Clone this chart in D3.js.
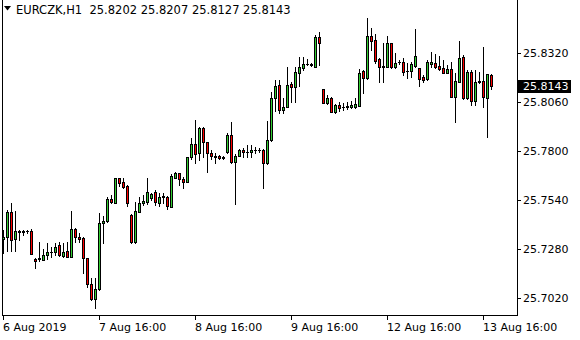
<!DOCTYPE html>
<html>
<head>
<meta charset="utf-8">
<script src="https://cdn.jsdelivr.net/npm/d3@7"></script>
<style>
  html, body { margin: 0; padding: 0; background: #fff; }
  svg { display: block; font-family: "DejaVu Sans", sans-serif; }
</style>
</head>
<body>
<div id="chart"></div>
<script>
// EURCZK H1 bars, 6 Aug 16:00 .. 13 Aug 18:00
const opens = [25.7332, 25.7343, 25.7475, 25.7332, 25.7369, 25.7372, 25.7373, 25.7375, 25.7226, 25.7229,
  25.7221, 25.7249, 25.7263, 25.7263, 25.7301, 25.7244, 25.7269, 25.7239, 25.7384, 25.7341,
  25.7336, 25.7230, 25.7092, 25.7013, 25.7066, 25.7416, 25.7428, 25.7544, 25.7525, 25.7654,
  25.7633, 25.7613, 25.7460, 25.7316, 25.7477, 25.7522, 25.7527, 25.7551, 25.7580, 25.7522,
  25.7560, 25.7553, 25.7504, 25.7657, 25.7681, 25.7650, 25.7636, 25.7765, 25.7836, 25.7790,
  25.7919, 25.7845, 25.7787, 25.7769, 25.7772, 25.7769, 25.7795, 25.7884, 25.7742, 25.7774,
  25.7804, 25.7796, 25.7792, 25.7802, 25.7804, 25.7804, 25.7734, 25.7855, 25.8078, 25.8149,
  25.8016, 25.8034, 25.8154, 25.8136, 25.8211, 25.8237, 25.8258, 25.8260, 25.8246, 25.8401,
  25.8126, 25.8052, 25.8081, 25.8004, 25.8043, 25.8034, 25.8034, 25.8030, 25.8034, 25.8039,
  25.8223, 25.8184, 25.8408, 25.8387, 25.8285, 25.8249, 25.8246, 25.8370, 25.8246, 25.8269,
  25.8269, 25.8224, 25.8224, 25.8251, 25.8237, 25.8189, 25.8180, 25.8260, 25.8264, 25.8249,
  25.8237, 25.8214, 25.8232, 25.8087, 25.8166, 25.8295, 25.8078, 25.8219, 25.8064, 25.8163,
  25.8170, 25.8078, 25.8202];
const highs = [25.7380, 25.7486, 25.7523, 25.7481, 25.7380, 25.7380, 25.7380, 25.7385, 25.7232, 25.7316,
  25.7279, 25.7311, 25.7290, 25.7311, 25.7316, 25.7311, 25.7316, 25.7481, 25.7391, 25.7364,
  25.7343, 25.7232, 25.7126, 25.7126, 25.7470, 25.7454, 25.7557, 25.7566, 25.7656, 25.7656,
  25.7654, 25.7619, 25.7465, 25.7528, 25.7557, 25.7566, 25.7654, 25.7578, 25.7592, 25.7576,
  25.7578, 25.7560, 25.7677, 25.7689, 25.7682, 25.7663, 25.7767, 25.7866, 25.7963, 25.7928,
  25.7928, 25.7848, 25.7804, 25.7787, 25.7778, 25.7772, 25.7896, 25.7951, 25.7783, 25.7809,
  25.7815, 25.7831, 25.7829, 25.7822, 25.7813, 25.7809, 25.7958, 25.8110, 25.8175, 25.8175,
  25.8078, 25.8242, 25.8166, 25.8246, 25.8299, 25.8297, 25.8285, 25.8267, 25.8414, 25.8431,
  25.8127, 25.8096, 25.8085, 25.8048, 25.8060, 25.8055, 25.8060, 25.8065, 25.8078, 25.8232,
  25.8228, 25.8502, 25.8449, 25.8419, 25.8292, 25.8370, 25.8408, 25.8371, 25.8317, 25.8281,
  25.8290, 25.8264, 25.8272, 25.8445, 25.8239, 25.8202, 25.8281, 25.8325, 25.8313, 25.8302,
  25.8281, 25.8255, 25.8272, 25.8211, 25.8382, 25.8308, 25.8228, 25.8228, 25.8228, 25.8219,
  25.8352, 25.8207, 25.8207];
const lows = [25.7258, 25.7269, 25.7269, 25.7269, 25.7327, 25.7354, 25.7364, 25.7252, 25.7179, 25.7216,
  25.7221, 25.7226, 25.7239, 25.7248, 25.7242, 25.7237, 25.7237, 25.7237, 25.7316, 25.7316,
  25.7154, 25.7078, 25.7009, 25.6968, 25.7062, 25.7311, 25.7422, 25.7522, 25.7523, 25.7613,
  25.7601, 25.7507, 25.7311, 25.7311, 25.7475, 25.7513, 25.7518, 25.7539, 25.7513, 25.7507,
  25.7522, 25.7490, 25.7502, 25.7654, 25.7619, 25.7601, 25.7634, 25.7755, 25.7734, 25.7751,
  25.7765, 25.7689, 25.7755, 25.7737, 25.7755, 25.7756, 25.7787, 25.7734, 25.7518, 25.7772,
  25.7769, 25.7765, 25.7765, 25.7790, 25.7795, 25.7601, 25.7730, 25.7852, 25.8012, 25.7998,
  25.7998, 25.8032, 25.8060, 25.8060, 25.8143, 25.8228, 25.8255, 25.8249, 25.8242, 25.8255,
  25.8052, 25.8048, 25.8004, 25.8000, 25.8011, 25.8016, 25.8020, 25.8025, 25.8025, 25.8037,
  25.8105, 25.8180, 25.8334, 25.8264, 25.8163, 25.8166, 25.8244, 25.8237, 25.8239, 25.8260,
  25.8202, 25.8184, 25.8193, 25.8246, 25.8143, 25.8166, 25.8175, 25.8246, 25.8237, 25.8228,
  25.8211, 25.8211, 25.8085, 25.7954, 25.8163, 25.8076, 25.8074, 25.8043, 25.8043, 25.8159,
  25.8034, 25.7875, 25.8127];
const closes = [25.7343, 25.7475, 25.7327, 25.7375, 25.7375, 25.7375, 25.7375, 25.7253, 25.7216, 25.7232,
  25.7248, 25.7263, 25.7266, 25.7290, 25.7248, 25.7263, 25.7239, 25.7384, 25.7341, 25.7334,
  25.7230, 25.7092, 25.7013, 25.7066, 25.7416, 25.7428, 25.7543, 25.7530, 25.7654, 25.7631,
  25.7610, 25.7525, 25.7316, 25.7481, 25.7522, 25.7534, 25.7580, 25.7569, 25.7527, 25.7557,
  25.7555, 25.7507, 25.7666, 25.7681, 25.7649, 25.7636, 25.7765, 25.7836, 25.7783, 25.7919,
  25.7848, 25.7787, 25.7772, 25.7770, 25.7760, 25.7762, 25.7884, 25.7742, 25.7774, 25.7804,
  25.7792, 25.7793, 25.7804, 25.7804, 25.7802, 25.7734, 25.7855, 25.8078, 25.8143, 25.8016,
  25.8034, 25.8149, 25.8136, 25.8216, 25.8246, 25.8258, 25.8260, 25.8256, 25.8401, 25.8370,
  25.8052, 25.8081, 25.8007, 25.8043, 25.8028, 25.8032, 25.8036, 25.8043, 25.8046, 25.8214,
  25.8184, 25.8408, 25.8383, 25.8277, 25.8246, 25.8246, 25.8370, 25.8246, 25.8264, 25.8270,
  25.8219, 25.8223, 25.8260, 25.8302, 25.8179, 25.8175, 25.8269, 25.8272, 25.8246, 25.8233,
  25.8214, 25.8232, 25.8087, 25.8170, 25.8290, 25.8078, 25.8216, 25.8064, 25.8166, 25.8170,
  25.8083, 25.8207, 25.8143];

const priceTicks = [25.8320, 25.8060, 25.7800, 25.7540, 25.7280, 25.7020];
const timeTickBars = [0, 24, 48, 72, 96, 120];
const timeTickLabels = ['6 Aug 2019', '7 Aug 16:00', '8 Aug 16:00', '9 Aug 16:00', '12 Aug 16:00', '13 Aug 16:00'];
const symbol = 'EURCZK,H1';
const lastPrice = 25.8143;

const width = 580, height = 340;
const BULL = '#32cd32', BEAR = '#ff0000', INK = '#000';
const plotRight = 517.5, plotBottom = 315.5;

const svg = d3.select('#chart').append('svg')
  .attr('width', width).attr('height', height)
  .attr('shape-rendering', 'crispEdges');

const x = d3.scaleLinear().domain([0, 128]).range([3.5, 515.5]);
const y = d3.scaleLinear().domain([25.7020, 25.8320]).range([298, 52.7]);

// frame
svg.append('path')
  .attr('d', `M2.5,0V${plotBottom}H${plotRight}V0`)
  .attr('fill', 'none').attr('stroke', INK);

// price axis
const yAxis = svg.append('g');
priceTicks.forEach(v => {
  const py = Math.round(y(v)) + 0.5;
  yAxis.append('line').attr('x1', plotRight).attr('x2', 521).attr('y1', py).attr('y2', py).attr('stroke', INK);
  yAxis.append('text').attr('x', 523).attr('y', py).attr('dy', '0.36em')
    .attr('font-size', '11px').attr('fill', INK).text(v.toFixed(4));
});

// time axis
const xAxis = svg.append('g');
timeTickBars.forEach((b, k) => {
  const px = x(b);
  xAxis.append('line').attr('x1', px).attr('x2', px).attr('y1', plotBottom).attr('y2', 320).attr('stroke', INK);
  xAxis.append('text').attr('x', px - 0.5).attr('y', 331)
    .attr('font-size', '11px').attr('fill', INK).text(timeTickLabels[k]);
});

// candles
const bars = opens.map((o, i) => ({ i, o, h: highs[i], l: lows[i], c: closes[i] }));
const candles = svg.append('g').selectAll('g').data(bars).join('g');

candles.append('line')
  .attr('x1', d => x(d.i)).attr('x2', d => x(d.i))
  .attr('y1', d => Math.round(y(d.h))).attr('y2', d => Math.round(y(d.l)) + 1)
  .attr('stroke', INK);

candles.each(function(d) {
  const g = d3.select(this);
  const top = Math.round(y(Math.max(d.o, d.c)));
  const bot = Math.round(y(Math.min(d.o, d.c)));
  if (bot - top < 1) {
    g.append('line').attr('x1', x(d.i) - 1.5).attr('x2', x(d.i) + 1.5)
      .attr('y1', top + 0.5).attr('y2', top + 0.5).attr('stroke', INK);
  } else {
    g.append('rect').attr('x', x(d.i) - 1).attr('y', top + 0.5)
      .attr('width', 2).attr('height', bot - top)
      .attr('fill', d.c > d.o ? BULL : BEAR).attr('stroke', INK);
  }
});

// last price marker
const ly = Math.round(y(lastPrice));
svg.append('rect').attr('x', 517).attr('y', ly - 6).attr('width', 54).attr('height', 13).attr('fill', INK);
svg.append('text').attr('x', 523).attr('y', ly + 0.5).attr('dy', '0.36em')
  .attr('font-size', '11px').attr('fill', '#fff').text(lastPrice.toFixed(4));

// header
svg.append('path').attr('d', 'M4,6H11L7.5,10.5Z').attr('fill', INK).attr('shape-rendering', 'auto');
const last = bars[bars.length - 1];
svg.append('text').attr('x', 16).attr('y', 14).attr('font-size', '11.5px').attr('fill', INK)
  .attr('xml:space', 'preserve')
  .text(`${symbol}  ${[last.o, last.h, last.l, last.c].map(v => v.toFixed(4)).join(' ')}`);
</script>
</body>
</html>
